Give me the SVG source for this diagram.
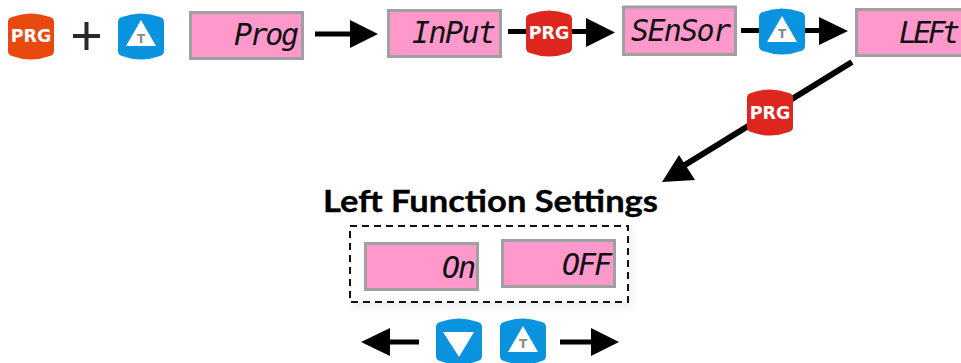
<svg xmlns="http://www.w3.org/2000/svg" width="961" height="363" viewBox="0 0 961 363">
<style>
.lcd{fill:#ff99cc;stroke:#a0a0a0;stroke-width:3}
.seg{font-family:"DejaVu Sans Mono","Liberation Mono",monospace;font-style:italic;font-size:30px;fill:#111}
.line{stroke:#000;stroke-width:5;fill:none}
.prg{font-family:"DejaVu Sans","Liberation Sans",sans-serif;font-weight:700;font-size:17.500px;fill:#fff;text-anchor:middle}
.t{font-family:"DejaVu Sans","Liberation Sans",sans-serif;font-weight:700;font-size:12px;fill:#888;text-anchor:middle}
.tri{fill:#fff}
.blue{fill:#0a94e0}.red{fill:#dd261d}.orange{fill:#e8490f}
.title{font-family:Lato,"Liberation Sans",sans-serif;font-weight:700;font-size:30px;fill:#000;stroke:#000;stroke-width:.35}
</style>
<defs>
<path id="btn" d="M0 10Q0 6 4 5Q23 -2 42 5Q46 6 46 10V39Q46 43 42 44Q23 51 4 44Q0 43 0 39Z"/>
<filter id="blur" x="-10%" y="-20%" width="120%" height="140%"><feGaussianBlur stdDeviation="4"/></filter>
</defs>
<g id="connectors">
<path class="line" d="M315 34H352"/><polygon points="350,20 378,34 350,48"/>
<path class="line" d="M508 31.500H530M570 31.500H588"/><polygon points="586,18 615,32.500 586,47"/>
<path class="line" d="M741 30.500H765M800 30.500H821"/><polygon points="819,17 848,31 819,45"/>
<path d="M852 62L680 168" stroke="#000" stroke-width="6" fill="none"/><polygon points="662,182 679,155 695,180"/>
<path class="line" d="M419 342H388"/><polygon points="390,328 361,342 390,356"/>
<path class="line" d="M560 342H593"/><polygon points="591,328 619,342 591,356"/>
</g>
<g id="key-prg-orange"><use href="#btn" x="8" y="12" class="orange"/><text class="prg" x="31" y="42">PRG</text></g>
<g id="plus"><path d="M73 36H100M86.500 22V50" stroke="#2a2a2a" stroke-width="4" fill="none"/></g>
<g id="key-up-1"><use href="#btn" x="118" y="12" class="blue"/><polygon class="tri" points="141,20 126,46 156,46"/><text class="t" x="141" y="43">T</text></g>
<g id="lcd-prog"><rect class="lcd" x="190.500" y="12.500" width="112" height="46"/><text class="seg" x="234" y="45" textLength="65" lengthAdjust="spacing">Prog</text></g>
<g id="lcd-input"><rect class="lcd" x="388.500" y="10.500" width="112" height="46"/><text class="seg" x="412" y="43" textLength="84" lengthAdjust="spacing">InPut</text></g>
<g id="key-prg-red-1"><use href="#btn" x="526" y="9" class="red"/><text class="prg" x="549" y="39">PRG</text></g>
<g id="lcd-sensor"><rect class="lcd" x="623.500" y="7" width="112" height="47.500"/><text class="seg" x="631" y="41" textLength="100" lengthAdjust="spacing">SEnSor</text></g>
<g id="key-up-2"><use href="#btn" x="759" y="7" class="blue"/><polygon class="tri" points="782,16 767,42 797,42"/><text class="t" x="782" y="38">T</text></g>
<g id="lcd-left"><rect class="lcd" x="856.500" y="9.500" width="112" height="46"/><text class="seg" x="899" y="43" textLength="61" lengthAdjust="spacing">LEFt</text></g>
<g id="key-prg-red-2"><use href="#btn" x="747" y="88" class="red"/><text class="prg" x="770" y="119">PRG</text></g>
<text class="title" x="323" y="212" textLength="335" lengthAdjust="spacingAndGlyphs">Left Function Settings</text>
<g id="settings-box">
<rect x="352" y="229" width="280" height="78" fill="#000" opacity=".07" filter="url(#blur)"/>
<rect x="350" y="226" width="278" height="76" fill="#fff" stroke="#111" stroke-width="2" stroke-dasharray="7 5"/>
</g>
<g id="lcd-on"><rect class="lcd" x="365.500" y="243.500" width="112" height="46"/><text class="seg" x="442" y="278" textLength="34" lengthAdjust="spacing">On</text></g>
<g id="lcd-off"><rect class="lcd" x="502.500" y="240.500" width="112" height="46"/><text class="seg" x="562" y="275" textLength="50" lengthAdjust="spacing">OFF</text></g>
<g id="key-down"><use href="#btn" x="436" y="317" class="blue"/><polygon class="tri" points="443,332 474,332 459,357"/></g>
<g id="key-up-3"><use href="#btn" x="500" y="317" class="blue"/><polygon class="tri" points="523,326 508,352 538,352"/><text class="t" x="523" y="348">T</text></g>
</svg>
